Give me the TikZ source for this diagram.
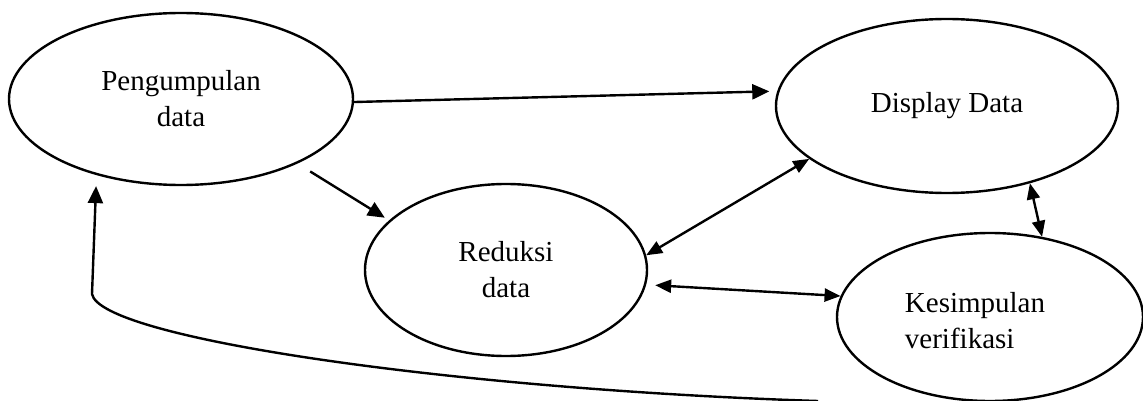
\documentclass[tikz,border=0pt]{standalone}
\usepackage{fontspec}
\setmainfont{Liberation Serif}
\usetikzlibrary{shapes.geometric, arrows.meta}

\begin{document}
\begin{tikzpicture}[x=1pt,y=-1pt,
	tahap/.style={draw, ellipse, line width=2.4pt, inner sep=0pt, align=center, font=\fontsize{29}{36}\selectfont},
	teks/.style={align=left, inner sep=0pt, font=\fontsize{29}{36}\selectfont},
	panah/.style={line width=2.4pt, -{Triangle[length=17pt,width=15pt]}},
	duapanah/.style={line width=2.4pt, {Triangle[length=16pt,width=13pt]}-{Triangle[length=16pt,width=13pt]}}]
	\useasboundingbox (0,0) rectangle (1143,401);
	\clip (0,0) rectangle (1143,401);
	% tahapan
	\node[tahap, minimum width=344pt, minimum height=172pt] (kumpul) at (181,99) {Pengumpulan\\data};
	\node[tahap, minimum width=342pt, minimum height=174pt] (display) at (947,106) {Display Data};
	\node[tahap, minimum width=282pt, minimum height=172pt] (reduksi) at (506,270) {Reduksi\\data};
	\node[tahap, minimum width=306pt, minimum height=168pt] (simpul) at (990,317) {};
	\node[teks] (simpulteks) at (975,321) {Kesimpulan\\verifikasi};
	% panah
	\draw[panah, shorten >=8pt] (kumpul.-1) -- (display.175.5);
	\draw[panah, shorten <=15pt, shorten >=5pt] (kumpul.-29) -- (reduksi.157.5);
	\draw[duapanah] (reduksi.6) -- (display.-159);
	\draw[duapanah, shorten <=9pt] (reduksi.-6.5) -- (simpul.172.7);
	\draw[duapanah] (display.-43) -- (simpul.57);
	\coordinate (bawah) at (818,401);
	\draw[panah, shorten >=11pt] (bawah) .. controls (450,389) and (100,338) .. (92,294) -- (kumpul.-138);
\end{tikzpicture}
\end{document}
